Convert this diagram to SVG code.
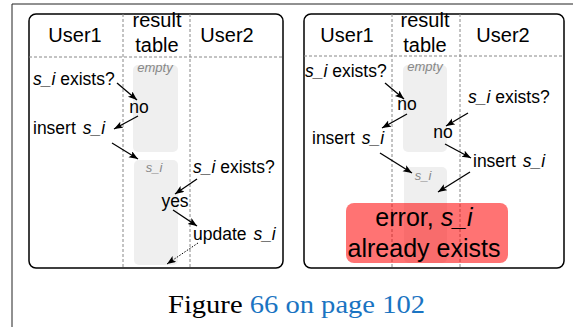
<svg xmlns="http://www.w3.org/2000/svg" width="573" height="327" viewBox="0 0 573 327">
<style>
.frame{fill:none;stroke:#222;stroke-width:1}
.panel{fill:#fff;stroke:#000;stroke-width:1.5}
.div{stroke:#888;stroke-width:1;stroke-dasharray:3,2;fill:none}
.col{fill:#efefef}
.hd{font-family:"Liberation Sans",Arial,sans-serif;font-size:20px;fill:#000;text-anchor:middle}
.t{font-family:"Liberation Sans",Arial,sans-serif;font-size:17.5px;fill:#000}
.c{text-anchor:middle}
.i{font-style:italic}
.g{font-family:"Liberation Sans",Arial,sans-serif;font-size:13px;fill:#888;font-style:italic;text-anchor:middle}
.big{font-family:"Liberation Sans",Arial,sans-serif;font-size:25px;fill:#000;text-anchor:middle}
.arr{stroke:#000;stroke-width:1.3;fill:none;marker-end:url(#ah)}
.dot{stroke:#000;stroke-width:1;fill:none;stroke-dasharray:1.5,1.5;marker-end:url(#ah)}
.cap{font-family:"Liberation Serif","Times New Roman",serif;font-size:26px;fill:#000}
</style>
<defs>
<marker id="ah" markerUnits="userSpaceOnUse" markerWidth="10" markerHeight="8" refX="9" refY="3.5" orient="auto">
<path d="M0,0 L9,3.5 L0,7 L2,3.5 z" fill="#000"/>
</marker>
</defs>
<rect width="573" height="327" fill="#fff"/>
<path class="frame" d="M12,327 V4 H573"/>

<g id="panel1">
<rect class="panel" x="29" y="14" width="254" height="254" rx="7"/>
<rect class="col" x="133" y="65" width="45" height="87" rx="5"/>
<rect class="col" x="134" y="160" width="44" height="105" rx="5"/>
<line class="div" x1="123" y1="14" x2="123" y2="268"/>
<line class="div" x1="190" y1="14" x2="190" y2="268"/>
<line class="div" x1="29" y1="57" x2="283" y2="57"/>
<text class="hd" x="75" y="42">User1</text>
<text class="hd" x="157" y="27">result</text>
<text class="hd" x="157" y="52">table</text>
<text class="hd" x="227" y="42">User2</text>
</g>
<g id="p1-empty"><text class="g" x="155" y="72">empty</text></g>
<g id="p1-q1"><text class="t" x="33" y="85"><tspan class="i">s_i</tspan> exists?</text></g>
<g id="p1-no"><text class="t c" x="139" y="113">no</text></g>
<g id="p1-ins"><text class="t" x="33" y="134">insert <tspan class="i" dx="2">s_i</tspan></text></g>
<g id="p1-si"><text class="g" x="154" y="172">s_i</text></g>
<g id="p1-q2"><text class="t" x="193" y="173"><tspan class="i">s_i</tspan> exists?</text></g>
<g id="p1-yes"><text class="t c" x="175" y="207">yes</text></g>
<g id="p1-upd"><text class="t" x="193" y="240">update <tspan class="i" dx="2">s_i</tspan></text></g>

<g id="panel2">
<rect class="panel" x="304" y="14" width="260" height="254" rx="7"/>
<rect class="col" x="403" y="65" width="44" height="87" rx="5"/>
<rect class="col" x="404" y="167" width="43" height="96" rx="5"/>
<line class="div" x1="392" y1="14" x2="392" y2="268"/>
<line class="div" x1="460" y1="14" x2="460" y2="268"/>
<line class="div" x1="304" y1="56" x2="564" y2="56"/>
<text class="hd" x="347" y="42">User1</text>
<text class="hd" x="425" y="27">result</text>
<text class="hd" x="425" y="52">table</text>
<text class="hd" x="503" y="42">User2</text>
</g>
<g id="p2-empty"><text class="g" x="425" y="71">empty</text></g>
<g id="p2-q1"><text class="t" x="305" y="77"><tspan class="i">s_i</tspan> exists?</text></g>
<g id="p2-no1"><text class="t c" x="407" y="110">no</text></g>
<g id="p2-q2"><text class="t" x="468" y="103"><tspan class="i">s_i</tspan> exists?</text></g>
<g id="p2-ins1"><text class="t" x="312" y="144">insert <tspan class="i" dx="2">s_i</tspan></text></g>
<g id="p2-no2"><text class="t c" x="443" y="138">no</text></g>
<g id="p2-ins2"><text class="t" x="473" y="167">insert <tspan class="i" dx="2">s_i</tspan></text></g>
<g id="p2-si"><text class="g" x="423" y="180">s_i</text></g>
<g id="p2-err">
<rect x="346" y="203" width="162" height="60" rx="8" fill="#ff0000" fill-opacity="0.55"/>
<text class="big" x="424" y="226">error, <tspan class="i">s_i</tspan></text>
<text class="big" x="424" y="257">already exists</text>
</g>

<g id="connectors">
<line class="arr" x1="117" y1="83" x2="137" y2="100"/>
<line class="arr" x1="138" y1="116" x2="114" y2="129"/>
<line class="arr" x1="112" y1="143" x2="138" y2="159"/>
<line class="arr" x1="197" y1="179" x2="175" y2="194"/>
<line class="arr" x1="173" y1="210" x2="197" y2="226"/>
<line class="dot" x1="198" y1="243" x2="167" y2="264"/>
<line class="arr" x1="385" y1="83" x2="404" y2="99"/>
<line class="arr" x1="407" y1="114" x2="382" y2="128"/>
<line class="arr" x1="468" y1="113" x2="446" y2="126"/>
<line class="arr" x1="445" y1="144" x2="471" y2="158"/>
<line class="arr" x1="380" y1="153" x2="412" y2="173"/>
<line class="arr" x1="470" y1="172" x2="438" y2="192"/>
</g>

<g id="caption">
<text class="cap" x="168" y="313" textLength="257" lengthAdjust="spacingAndGlyphs">Figure <tspan fill="#1a74c2">66 on page 102</tspan></text>
</g>
</svg>
